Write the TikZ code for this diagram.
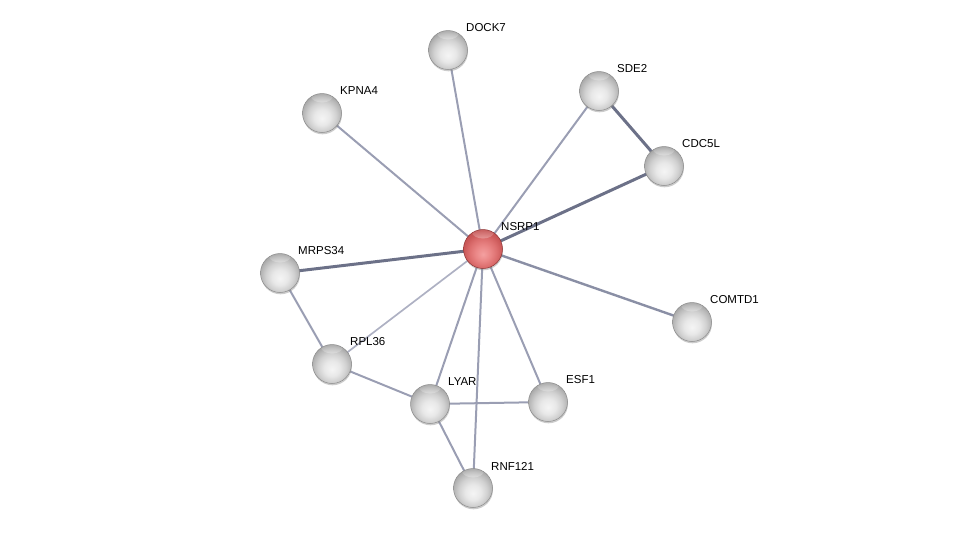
\documentclass[tikz,border=0pt]{standalone}
\usepackage{fontspec}
\setmainfont{Liberation Sans}
\usetikzlibrary{shadows,fadings}
\definecolor{edgeA}{HTML}{9A9EB3}
\definecolor{edgeB}{HTML}{8A8FA5}
\definecolor{edgeC}{HTML}{6C7188}
\definecolor{edgeL}{HTML}{AEB1C3}
\definecolor{r0}{HTML}{F4A0A0}
\definecolor{r1}{HTML}{EA8686}
\definecolor{r2}{HTML}{DC6E6E}
\definecolor{r3}{HTML}{CC5A5A}
\definecolor{r4}{HTML}{B84646}
\definecolor{rline}{HTML}{8E3434}
\pgfdeclareradialshading{grayball}{\pgfpoint{0bp}{-7bp}}{%
  color(0bp)=(white!96!black); color(10bp)=(white!91!black); color(18bp)=(white!82!black);
  color(24bp)=(white!72!black); color(28bp)=(white!64!black); color(32bp)=(white!60!black); color(50bp)=(white!60!black)}
\pgfdeclareradialshading{redball}{\pgfpoint{0bp}{-7bp}}{%
  color(0bp)=(r0); color(10bp)=(r1); color(18bp)=(r2);
  color(24bp)=(r3); color(32bp)=(r4); color(50bp)=(r4)}
\tikzset{
  ball/.style={circle, minimum size=39pt, inner sep=0pt, shading=grayball,
    draw=black!45, line width=0.5pt,
    drop shadow={shadow xshift=0.5pt, shadow yshift=-1.8pt, opacity=0.4},
    path picture={\fill[white, opacity=0.95, path fading=north]
      ([yshift=-2.5pt]path picture bounding box.north) ellipse [x radius=11pt, y radius=6.5pt];}},
  redball/.style={ball, shading=redball, draw=rline},
  lbl/.style={anchor=west, font=\fontsize{11.5pt}{13pt}\selectfont, inner sep=1pt, text=black},
  e1/.style={draw=edgeA, line width=2pt},
  e2/.style={draw=edgeB, line width=2.4pt},
  e3/.style={draw=edgeC, line width=3pt},
  eL/.style={draw=edgeL, line width=1.7pt},
}
\begin{document}
\begin{tikzpicture}[x=1pt,y=-1pt]
\useasboundingbox (0,0) rectangle (976,533);
% coordinates of nodes
\coordinate (pNSRP1) at (483,249);
\coordinate (pDOCK7) at (448,50);
\coordinate (pKPNA4) at (322,113);
\coordinate (pSDE2) at (599,91);
\coordinate (pCDC5L) at (664,166);
\coordinate (pMRPS34) at (280,273);
\coordinate (pCOMTD1) at (692,322);
\coordinate (pRPL36) at (332,364);
\coordinate (pLYAR) at (430,404);
\coordinate (pESF1) at (548,402);
\coordinate (pRNF121) at (473,488);
% edges
\draw[e1] (pNSRP1) -- (pDOCK7);
\draw[e1] (pNSRP1) -- (pKPNA4);
\draw[e1] (pNSRP1) -- (pSDE2);
\draw[e3] (pNSRP1) -- (pCDC5L);
\draw[e3] (pSDE2) -- (pCDC5L);
\draw[e3] (pNSRP1) -- (pMRPS34);
\draw[e2] (pNSRP1) -- (pCOMTD1);
\draw[eL] (pNSRP1) -- (pRPL36);
\draw[e1] (pNSRP1) -- (pLYAR);
\draw[e1] (pNSRP1) -- (pESF1);
\draw[e1] (pNSRP1) -- (pRNF121);
\draw[e1] (pMRPS34) -- (pRPL36);
\draw[e1] (pRPL36) -- (pLYAR);
\draw[e1] (pLYAR) -- (pESF1);
\draw[e1] (pLYAR) -- (pRNF121);
% nodes
\node[redball] (NSRP1) at (pNSRP1) {};
\node[ball] (DOCK7) at (pDOCK7) {};
\node[ball] (KPNA4) at (pKPNA4) {};
\node[ball] (SDE2) at (pSDE2) {};
\node[ball] (CDC5L) at (pCDC5L) {};
\node[ball] (MRPS34) at (pMRPS34) {};
\node[ball] (COMTD1) at (pCOMTD1) {};
\node[ball] (RPL36) at (pRPL36) {};
\node[ball] (LYAR) at (pLYAR) {};
\node[ball] (ESF1) at (pESF1) {};
\node[ball] (RNF121) at (pRNF121) {};
% labels
\foreach \n in {NSRP1,DOCK7,KPNA4,SDE2,CDC5L,MRPS34,COMTD1,RPL36,LYAR,ESF1,RNF121}
  \node[lbl] (l\n) at ([shift={(17,-22)}]p\n) {\n};
\end{tikzpicture}
\end{document}
